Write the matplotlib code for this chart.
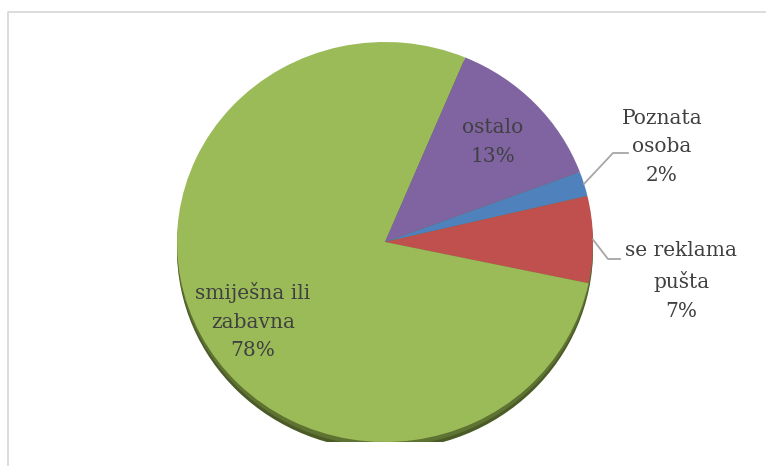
import numpy as np
import matplotlib
matplotlib.use("Agg")
import matplotlib.pyplot as plt
from matplotlib.patches import Ellipse
from matplotlib.lines import Line2D

# ---- data ----
categories = ["Poznata\nosoba", "se reklama\npušta", "smiješna ili\nzabavna", "ostalo"]
values = [2, 7, 78, 13]
colors = ["#4F81BD", "#C0504D", "#9BBB59", "#8064A2"]

W, H = 766, 466
fig = plt.figure(figsize=(W / 100, H / 100), dpi=100)
fig.patch.set_facecolor("white")

# chart-area border (top and left edges visible)
fig.lines.append(Line2D([8 / W, 8 / W, 1.05], [-0.05, 1 - 12 / H, 1 - 12 / H],
                        transform=fig.transFigure, color="#D9D9D9", linewidth=1.3))

# pie axes: ellipse rx=208 px, ry=200 px, centre (385, 242)
cx, cy, rx, ry = 385, 242, 208, 200
ax = fig.add_axes([(cx - rx) / W, (H - cy - ry) / H, 2 * rx / W, 2 * ry / H])
ax.axis("off")

# 3D side / shadow
ax.add_patch(Ellipse((0, -0.04), 2, 2, facecolor="#4B5B27", edgecolor="none", zorder=0))
ax.add_patch(Ellipse((0, -0.022), 2, 2, facecolor="#5E7232", edgecolor="none", zorder=0.5))

wedges, _ = ax.pie(values, colors=colors, startangle=20.5, counterclock=False,
                   radius=1.0, wedgeprops=dict(linewidth=0, zorder=1))
ax.set_aspect("auto")
ax.set_xlim(-1, 1)
ax.set_ylim(-1, 1)

font = dict(family="DejaVu Serif", fontsize=14.5, color="#404040",
            ha="center", va="center", linespacing=1.65)

def fig_px(x, y):
    return (x / W, 1 - y / H)

pct = [f"{v}%" for v in values]
# label positions in pixels (figure coords)
label_pos = {0: (662, 147), 1: (681, 281), 2: (253, 321), 3: (493, 142)}
for i, (cat, p) in enumerate(zip(categories, pct)):
    x, y = label_pos[i]
    fig.text(*fig_px(x, y), cat + "\n" + p, **font)

# leader lines for the outside labels
def edge_px(w):
    th = np.deg2rad((w.theta1 + w.theta2) / 2)
    return cx + rx * np.cos(th), cy - ry * np.sin(th)

leaders = {0: ((613, 153), (628, 153)), 1: ((608, 259), (620, 259))}
for i, (elbow, end) in leaders.items():
    sx, sy = edge_px(wedges[i])
    xs = [sx, elbow[0], end[0]]
    ys = [sy, elbow[1], end[1]]
    fig.lines.append(Line2D([x / W for x in xs], [1 - y / H for y in ys],
                            transform=fig.transFigure, color="#A6A6A6", linewidth=1.3))

fig.savefig("out.png", dpi=100)
